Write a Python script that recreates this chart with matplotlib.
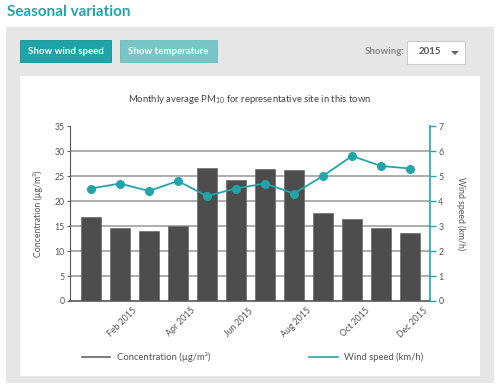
import matplotlib
matplotlib.use('Agg')
import matplotlib.pyplot as plt
import numpy as np
from matplotlib.patches import Rectangle, Polygon
from matplotlib.lines import Line2D

plt.rcParams['font.family'] = ['Lato', 'DejaVu Sans']
plt.rcParams['mathtext.fontset'] = 'custom'
plt.rcParams['mathtext.rm'] = 'Lato'

# data
months = ['Jan', 'Feb', 'Mar', 'Apr', 'May', 'Jun',
          'Jul', 'Aug', 'Sep', 'Oct', 'Nov', 'Dec']
concentration = [16.8, 14.6, 14.1, 15.1, 26.7, 24.2,
                 26.5, 26.2, 17.7, 16.4, 14.7, 13.7]
wind_speed = [4.5, 4.7, 4.4, 4.8, 4.2, 4.5,
              4.7, 4.3, 5.0, 5.8, 5.4, 5.3]
tick_labels = ['Feb 2015', 'Apr 2015', 'Jun 2015',
               'Aug 2015', 'Oct 2015', 'Dec 2015']

W, H = 499, 385
TEAL = '#22a5aa'
BAR = '#4d4d4d'
TXT = '#555555'

fig = plt.figure(figsize=(W / 100, H / 100), dpi=100)
fig.patch.set_facecolor('white')


def box(x0, y0, x1, y1, **kw):
    # rectangle in pixel coords, y from the top
    fig.patches.append(Rectangle((x0 / W, 1 - y1 / H), (x1 - x0) / W, (y1 - y0) / H,
                                 transform=fig.transFigure, zorder=-10, **kw))


def ftext(x, y, s, **kw):
    fig.text(x / W, 1 - y / H, s, **kw)


# page furniture
ftext(7, 12, 'Seasonal variation', color=TEAL, fontsize=11, fontweight='bold',
      va='center', ha='left')
box(6, 27, 494, 383, facecolor='#e6e6e6', edgecolor='none')
box(20, 40, 111, 62, facecolor='#1ea3a8', edgecolor='#178f93', linewidth=0.6)
ftext(65.5, 51, 'Show wind speed', color='white', fontsize=6.9, fontweight='bold',
      ha='center', va='center')
box(120, 40, 217, 62, facecolor='#77c5c7', edgecolor='#6bbcbe', linewidth=0.6)
ftext(168.5, 51, 'Show temperature', color='white', fontsize=6.9, fontweight='bold',
      ha='center', va='center')
ftext(405, 52, 'Showing:', color='#8a8a8a', fontsize=6.9, fontweight='bold',
      ha='right', va='center')
box(407, 41, 465, 64, facecolor='white', edgecolor='#cccccc', linewidth=0.8)
ftext(430, 52, '2015', color='#555555', fontsize=6.9, fontweight='bold',
      ha='center', va='center')
fig.patches.append(Polygon([(451 / W, 1 - 51 / H), (459 / W, 1 - 51 / H), (455 / W, 1 - 55 / H)],
                           closed=True, transform=fig.transFigure, facecolor='#666666',
                           edgecolor='none', zorder=-5))
box(20, 76, 480, 376, facecolor='white', edgecolor='none')

# chart
ax = fig.add_axes([70 / W, 1 - 301 / H, 360 / W, 175 / H])
ax.set_facecolor('none')
x = np.arange(len(months))

ax.set_ylim(0, 35)
ax.set_yticks(np.arange(0, 36, 5))
for v in range(5, 31, 5):
    ax.axhline(v, color='#a0a0a0', linewidth=1.2, zorder=0)
ax.bar(x, concentration, width=0.69, color=BAR, edgecolor='#6a6a6a', linewidth=0.5, zorder=2)
ax.set_xlim(-0.72, 11.69)

ax.set_xticks(x[1::2] + 0.55)
ax.set_xticklabels(tick_labels, rotation=45, ha='right', va='center',
                   rotation_mode='anchor', fontsize=6.3, color=TXT)
ax.tick_params(axis='x', length=0, pad=6)
ax.tick_params(axis='y', length=2, width=0.8, color='#666666', labelsize=6.3,
               labelcolor=TXT, pad=2)
for s in ['top', 'right']:
    ax.spines[s].set_visible(False)
ax.spines['left'].set_color('#555555')
ax.spines['bottom'].set_color('#555555')
ax.spines['bottom'].set_linewidth(1.2)
ax.set_ylabel('Concentration (µg/m³)', fontsize=6.3, color=TXT, labelpad=8)

ax2 = ax.twinx()
ax2.set_ylim(0, 7)
ax2.set_yticks(np.arange(0, 8, 1))
ax2.plot(x, wind_speed, color=TEAL, linewidth=1.3, marker='o', markersize=5.5, zorder=5)
for s in ['top', 'left', 'bottom']:
    ax2.spines[s].set_visible(False)
ax2.spines['right'].set_color(TEAL)
ax2.spines['right'].set_linewidth(1.2)
ax2.tick_params(axis='y', length=4, width=1, color=TEAL, labelsize=6.3,
                labelcolor=TXT, pad=2)
ax2.set_ylabel('Wind speed (km/h)', fontsize=6.3, color=TXT, rotation=-90, labelpad=16)

ax.set_title('Monthly average PM$_{\\mathrm{10}}$ for representative site in this town',
             fontsize=6.8, color='#444444', pad=17)

handles = [Line2D([], [], color='#666666', linewidth=1.2),
           Line2D([], [], color=TEAL, linewidth=1.2)]
fig.legend(handles, ['Concentration (µg/m³)', 'Wind speed (km/h)'],
           loc='center left', bbox_to_anchor=(82 / W, 1 - 357 / H), ncol=2,
           frameon=False, fontsize=6.8, handlelength=3.0, handletextpad=0.7,
           columnspacing=10.5, borderpad=0, borderaxespad=0, labelcolor=TXT)

fig.savefig('out.png', dpi=100)
